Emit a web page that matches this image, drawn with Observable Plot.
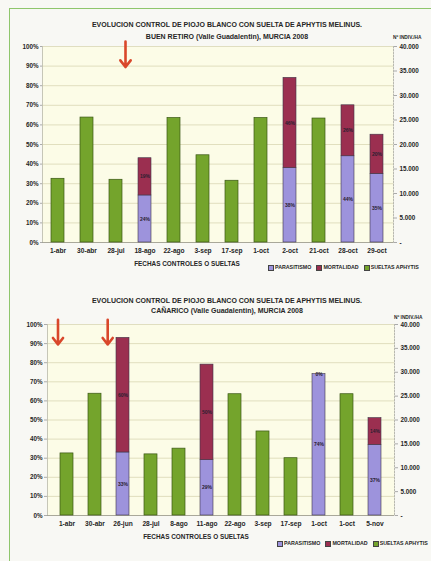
<!DOCTYPE html>
<html><head><meta charset="utf-8">
<script src="https://cdn.jsdelivr.net/npm/d3@7"></script>
<script src="https://cdn.jsdelivr.net/npm/@observablehq/plot@0.6"></script>
<style>
body{margin:0;background:#f8f8f4;font-family:"Liberation Sans",Arial,sans-serif;}
#page{position:relative;width:431px;height:561px;overflow:hidden;background:#f8f8f4;}
.frame{position:absolute;left:9px;top:8px;width:440px;height:580px;border:1px solid #8fc66c;box-sizing:border-box;}
.chart{position:absolute;left:0;}
.t{position:absolute;font-weight:bold;color:#262626;white-space:nowrap;line-height:1;}
.title{left:0;width:454px;text-align:center;font-size:7px;}
.axt{width:240px;text-align:center;font-size:6.4px;}
.units{font-size:4.8px;}
.legend{font-size:5.3px;display:flex;align-items:center;}
.legend span.sw{display:inline-block;width:4px;height:4px;border:0.6px solid #444;margin-right:1px;}
.legend span.it{margin-right:5px;display:inline-flex;align-items:center;}
</style>
</head><body>
<div id="page">
  <div class="frame"></div>
</div>
<script>
// ---------- Data: chart A (BUEN RETIRO) ----------
const datesA = ["1-abr","30-abr","28-jul","18-ago","22-ago","3-sep","17-sep","1-oct","2-oct","21-oct","28-oct","29-oct"];
const parasitismoA = [null,null,null,24,null,null,null,null,38,null,44,35];
const mortalidadA  = [null,null,null,19,null,null,null,null,46,null,26,20];
const sueltasA     = [13000,25500,12800,null,25400,17800,12600,25400,null,25300,null,null];
const releasesA    = ["28-jul"];

// ---------- Data: chart B (CAÑARICO) ----------
const datesB = ["1-abr","30-abr","26-jun","28-jul","8-ago","11-ago","22-ago","3-sep","17-sep","1-oct","1-oct","5-nov"];
const parasitismoB = [null,null,33,null,null,29,null,null,null,74,null,37];
const mortalidadB  = [null,null,60,null,null,50,null,null,null,0,null,14];
const sueltasB     = [13000,25500,null,12800,14000,null,25400,17600,12000,null,25400,null];
const releasesB    = ["1-abr","30-abr"];

// ---------- Axes ----------
const leftTicks  = [0,10,20,30,40,50,60,70,80,90,100];
const rightTicks = [0,5000,10000,15000,20000,25000,30000,35000,40000];
const rightMax = 40000;
const seriesNames = ["PARASITISMO","MORTALIDAD","SUELTAS APHYTIS"];
const seriesColors = ["#9d93dc","#9b2f50","#74a42c"];

const titlesA = ["EVOLUCION CONTROL DE PIOJO BLANCO CON SUELTA DE APHYTIS MELINUS.","BUEN RETIRO (Valle Guadalentin), MURCIA 2008"];
const titlesB = ["EVOLUCION CONTROL DE PIOJO BLANCO CON SUELTA DE APHYTIS MELINUS.","CAÑARICO (Valle Guadalentin), MURCIA 2008"];
const xTitle = "FECHAS CONTROLES O SUELTAS";
const unitsLabel = "Nº INDIV./HA";

const fmtRight = v => v === 0 ? "-" : d3.format(",")(v).replace(/,/g,".");

function makeChart(dates, par, mor, sue, releases, o) {
  const idx = dates.map((_, i) => i);
  const stack = [];
  dates.forEach((d, i) => {
    if (par[i] != null) stack.push({i, s: seriesNames[0], v: par[i]});
    if (mor[i] != null) stack.push({i, s: seriesNames[1], v: mor[i]});
  });
  const green = dates.map((d, i) => ({i, v: sue[i]})).filter(d => d.v != null);
  const rel = releases.map(r => ({i: dates.indexOf(r)}));
  const scale = 100 / rightMax;
  const arrowMarks = rel.map((r, k) => Plot.arrow([r], {
    x1: "i", x2: "i", y1: () => 102.5, y2: () => 89.5, dx: o.arrowDx[k],
    stroke: "#d9472b", strokeWidth: 2.6, headLength: 6, headAngle: 75
  }));
  return Plot.plot({
    width: 431, height: o.height,
    marginLeft: o.ml, marginRight: o.mr, marginTop: o.mt, marginBottom: o.mb,
    style: {background: "transparent", fontFamily: "Liberation Sans, Arial, sans-serif", fontWeight: "bold", color: "#262626", overflow: "visible"},
    x: {type: "band", domain: idx, paddingInner: 0.54, paddingOuter: 0.27, axis: null},
    y: {domain: [0, 100], axis: null},
    color: {domain: seriesNames.slice(0, 2), range: seriesColors.slice(0, 2)},
    marks: [
      Plot.frame({fill: "#fcfce7", stroke: null}),
      Plot.gridY(leftTicks, {stroke: "#d9d7b4", strokeOpacity: 1, strokeWidth: 0.8}),
      Plot.frame({anchor: "left", stroke: "#b9b9a8", strokeWidth: 0.8}),
      Plot.frame({anchor: "right", stroke: "#a8a8a0", strokeWidth: 0.8, strokeDasharray: "1.5,1.5"}),
      Plot.ruleY([0], {stroke: "#9a9a90", strokeWidth: 0.8}),
      Plot.axisY(leftTicks, {anchor: "left", tickFormat: d => d + "%", tickSize: o.lts, tickPadding: 2, fontSize: 6.3, stroke: "#aaa", label: null}),
      Plot.axisY(rightTicks.map(v => v * scale), {anchor: "right", tickFormat: d => fmtRight(Math.round(d / scale)), tickSize: 3, tickPadding: 3, fontSize: 6.3, stroke: "#aaa", label: null}),
      Plot.axisX(idx, {anchor: "bottom", tickFormat: i => dates[i], tickSize: 0, tickPadding: 6, fontSize: 6.6, label: null}),
      Plot.barY(green, {x: "i", y: d => d.v * scale, fill: seriesColors[2], stroke: "#3a5615", strokeWidth: 0.7}),
      Plot.barY(stack, Plot.stackY({x: "i", y: "v", fill: "s", stroke: "#3e3446", strokeWidth: 0.6})),
      Plot.text(stack, Plot.stackY({x: "i", y: "v", text: d => d.v + "%", fontSize: 5, fontWeight: "bold", fill: "#2a2030"})),
      ...arrowMarks
    ]
  });
}

const page = document.getElementById("page");
function addText(cls, txt, left, top) {
  const d = document.createElement("div");
  d.className = "t " + cls;
  d.textContent = txt;
  if (left != null) d.style.left = left + "px";
  d.style.top = top + "px";
  page.appendChild(d);
  return d;
}
function addLegend(left, top) {
  const d = document.createElement("div");
  d.className = "t legend";
  d.style.left = left + "px"; d.style.top = top + "px";
  seriesNames.forEach((n, k) => {
    const it = document.createElement("span"); it.className = "it";
    const sw = document.createElement("span"); sw.className = "sw"; sw.style.background = seriesColors[k];
    it.appendChild(sw); it.appendChild(document.createTextNode(n));
    d.appendChild(it);
  });
  page.appendChild(d);
}

// Chart A
const cA = makeChart(datesA, parasitismoA, mortalidadA, sueltasA, releasesA,
  {height: 230, ml: 42, mr: 38, mt: 16, mb: 18, lts: 2, arrowDx: [9.5]});
cA.classList.add("chart"); cA.style.top = "30px"; page.appendChild(cA);
addText("title", titlesA[0], null, 20.5);
addText("title", titlesA[1], null, 32.5);
addText("units", unitsLabel, 393, 36);
addText("axt", xTitle, 67, 261);
addLegend(268, 264.5);

// Chart B
const cB = makeChart(datesB, parasitismoB, mortalidadB, sueltasB, releasesB,
  {height: 228, ml: 47, mr: 37, mt: 18, mb: 19, lts: 3, arrowDx: [-9, 12.7]});
cB.classList.add("chart"); cB.style.top = "306px"; page.appendChild(cB);
addText("title", titlesB[0], null, 296.5);
addText("title", titlesB[1], null, 306.5);
addText("units", unitsLabel, 394, 316);
addText("axt", xTitle, 76, 534);
addLegend(277, 540.5);
</script>
</body></html>
